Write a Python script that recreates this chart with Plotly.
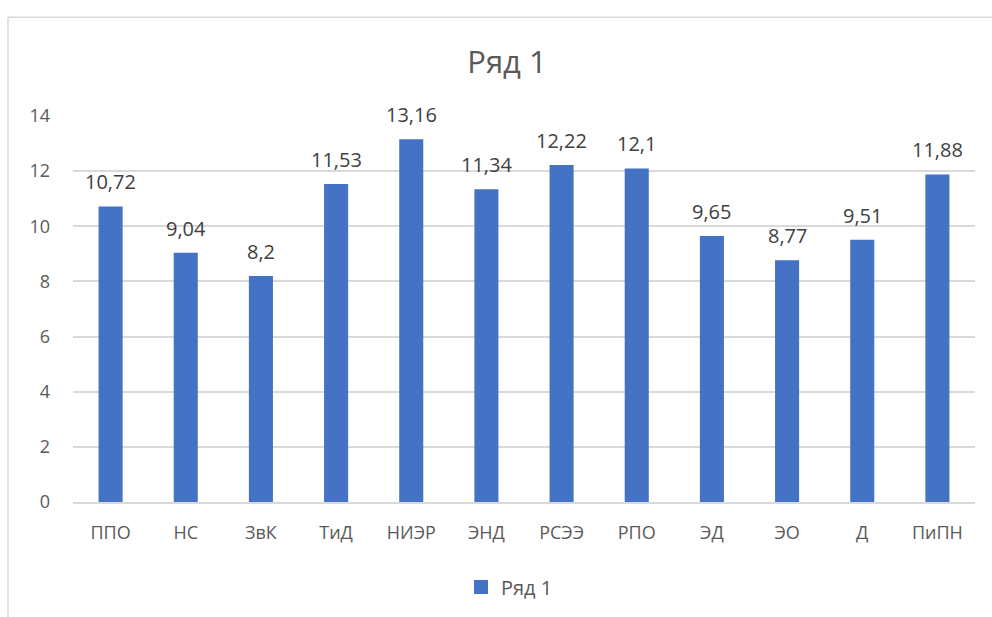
import plotly.graph_objects as go

# Показатели по направлениям
categories = ["ППО", "НС", "ЗвК", "ТиД", "НИЭР", "ЭНД", "РСЭЭ", "РПО", "ЭД", "ЭО", "Д", "ПиПН"]
values = [10.72, 9.04, 8.2, 11.53, 13.16, 11.34, 12.22, 12.1, 9.65, 8.77, 9.51, 11.88]
series_name = "Ряд 1"
y_ticks = [0, 2, 4, 6, 8, 10, 12, 14]

BAR = "#4472C4"
GRID = "#D9D9D9"
FONT = "Open Sans, Noto Sans, sans-serif"


def fmt(v):
    s = f"{v:.2f}".rstrip("0").rstrip(".")
    return s.replace(".", ",")


fig = go.Figure()
fig.add_trace(go.Bar(
    x=categories,
    y=values,
    name=series_name,
    marker=dict(color=BAR, line=dict(width=0)),
    width=0.32,
    showlegend=False,
))
# элемент легенды с квадратным маркером
fig.add_trace(go.Scatter(
    x=[None], y=[None], mode="markers", name=series_name,
    marker=dict(symbol="square", size=14, color=BAR),
))

# подписи значений над столбцами
for c, v in zip(categories, values):
    fig.add_annotation(
        x=c, y=v, text=fmt(v), showarrow=False,
        yanchor="bottom", yshift=9,
        font=dict(family=FONT, size=20, color="#404040"),
    )

L, R, T, B = 73, 17, 116, 114
W, H = 992, 617
pw, ph = W - L - R, H - T - B

# рамка области диаграммы
x0 = (8 - L) / pw
y1 = (H - B - 17) / ph
fig.add_shape(type="line", xref="paper", yref="paper", x0=x0, x1=x0, y0=-1, y1=y1,
              line=dict(color=GRID, width=1.5))
fig.add_shape(type="line", xref="paper", yref="paper", x0=x0, x1=2, y0=y1, y1=y1,
              line=dict(color=GRID, width=1.5))

fig.update_layout(
    width=W, height=H,
    margin=dict(l=L, r=R, t=T, b=B),
    paper_bgcolor="white", plot_bgcolor="white",
    title=dict(text=series_name, x=507 / W, xanchor="center",
               y=1 - 62 / H, yanchor="middle",
               font=dict(family=FONT, size=31, color="#595959")),
    font=dict(family=FONT, size=18, color="#595959"),
    xaxis=dict(showgrid=False, showline=True, linecolor=GRID, linewidth=1.5,
               ticks="", ticklabelstandoff=14, tickfont=dict(size=18, color="#595959")),
    yaxis=dict(range=[0, 14], tickvals=y_ticks, showgrid=True, gridcolor=GRID, gridwidth=1.5,
               zeroline=False, showline=False, ticks="", ticklabelstandoff=22,
               tickfont=dict(size=18, color="#595959")),
    legend=dict(orientation="h", x=(461 - L) / pw, xanchor="left",
                y=(H - B - 587) / ph, yanchor="middle",
                font=dict(family=FONT, size=20, color="#595959"),
                itemwidth=30),
)

fig.write_html("out.html")
